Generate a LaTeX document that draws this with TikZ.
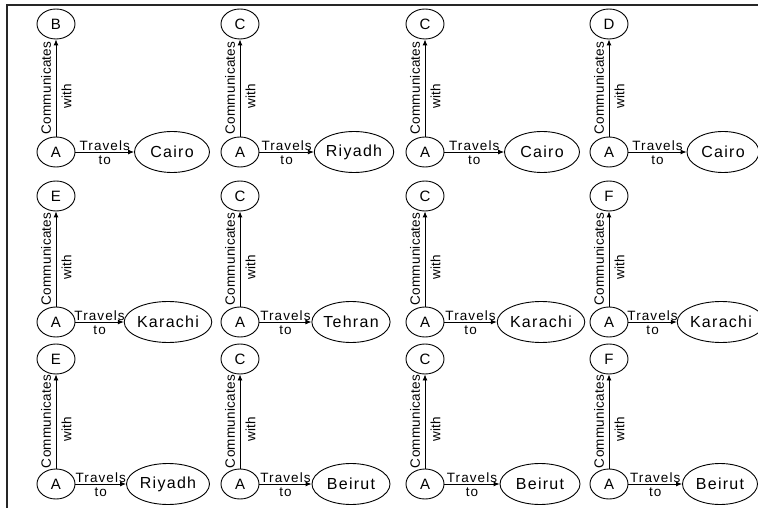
\documentclass[tikz,border=0pt]{standalone}
\usepackage{fontspec}
\setmainfont{Liberation Sans}
\usetikzlibrary{shapes.geometric,arrows.meta,calc}

\tikzset{
  pnode/.style={ellipse, draw, line width=0.9bp, inner sep=0pt,
    minimum width=38bp, minimum height=30bp,
    font=\fontsize{15bp}{17bp}\selectfont},
  city/.style={ellipse, draw, line width=0.9bp, inner sep=0pt,
    minimum width=#1, minimum height=41bp,
    font=\fontsize{16bp}{18bp}\selectfont\addfontfeature{LetterSpace=8}},
  link/.style={line width=0.9bp, -{Latex[length=6bp,width=5bp]}},
  hlbl/.style={inner sep=0pt, font=\fontsize{13.5bp}{15bp}\selectfont\addfontfeature{LetterSpace=8}},
  vlbl/.style={inner sep=0pt, rotate=90, font=\fontsize{13.5bp}{15bp}\selectfont\addfontfeature{LetterSpace=2}},
  frameline/.style={line width=1.2bp, draw=black!85},
}

\begin{document}
\begin{tikzpicture}[x=1bp,y=-1bp]
  \useasboundingbox (0,0) rectangle (758,508);
  % outer frame: top and left edges only
  \coordinate (fbl) at (7,508);
  \coordinate (ftl) at (7,5);
  \coordinate (ftr) at (758,5);
  \draw[frameline] (fbl) -- (ftl) -- (ftr);

  % twelve panels: A, the person it talks to, and the destination city
  \foreach \ax/\ay/\ty/\tl/\cx/\cn/\cw [count=\i] in {
    56/152/24/B/172/Cairo/75, 240/152/24/C/354/Riyadh/75,
    425/152/24/C/542/Cairo/75, 609/152/24/D/723/Cairo/72,
    56/322/196/E/168/Karachi/83, 240/322/196/C/351/Tehran/78,
    425/322/196/C/541/Karachi/80, 609/322/196/F/721/Karachi/74,
    56/484/359/E/168/Riyadh/83, 240/484/359/C/351/Beirut/78,
    425/484/359/C/540/Beirut/80, 609/484/359/F/720/Beirut/75}
  {
    \node[pnode] (a\i) at (\ax,\ay) {A};
    \node[pnode] (t\i) at (\ax,\ty) {\tl};
    \node[city=\cw bp] (c\i) at (\cx,\ay) {\cn};
    \draw[link] (a\i) -- node[hlbl, above=1bp] {Travels}
                         node[hlbl, below=3bp] {to} (c\i);
    \draw[link] (a\i) -- (t\i);
    \coordinate (m\i) at ($(a\i.north)!0.5!(t\i.south)$);
    \node[vlbl] at ([xshift=-10bp]m\i) {Communicates};
    \node[vlbl] at ([xshift=10.5bp,yshift=-8bp]m\i) {with};
  }
\end{tikzpicture}
\end{document}
